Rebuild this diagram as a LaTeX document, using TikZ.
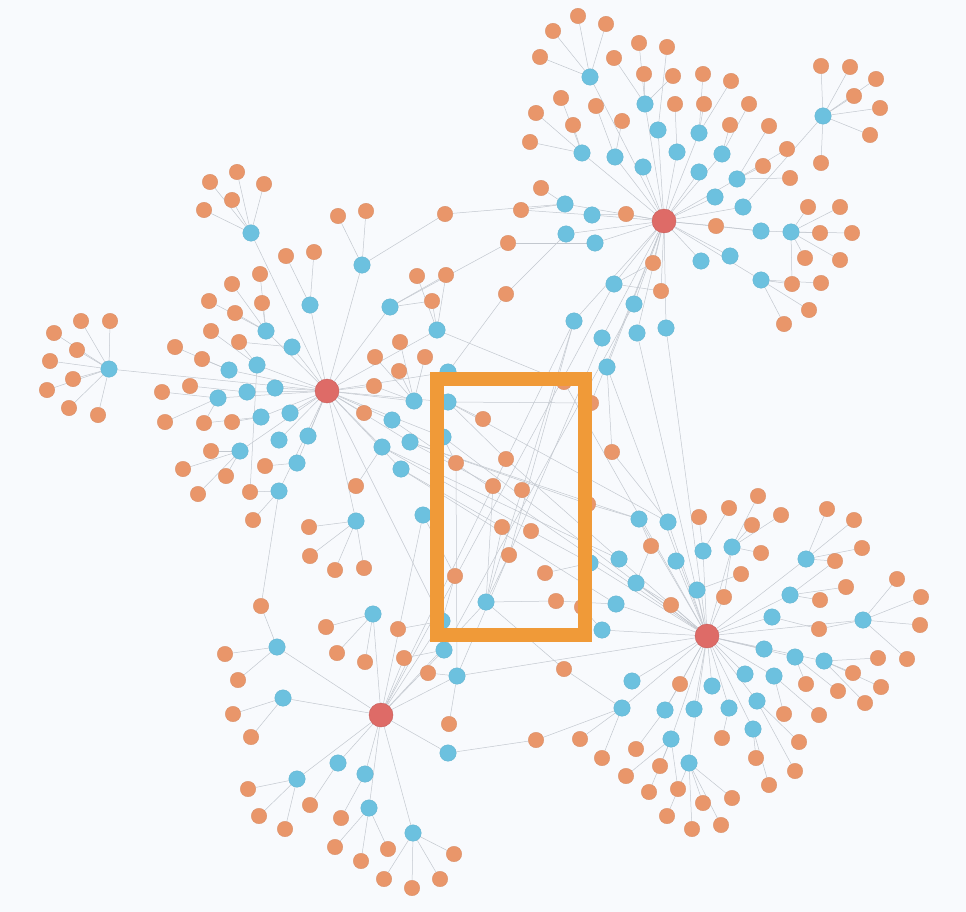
\documentclass[tikz,border=0pt]{standalone}
\usetikzlibrary{backgrounds}
\definecolor{canvas}{HTML}{F8FAFD}
\definecolor{hubred}{HTML}{DE6B67}
\definecolor{custblue}{HTML}{6CC1DF}
\definecolor{prodorange}{HTML}{E9966A}
\definecolor{linkgray}{HTML}{C3C8CF}
\definecolor{focusorange}{HTML}{F09A38}
\tikzset{
  hub/.style={circle, fill=hubred, draw=hubred!88!black, line width=0.4pt,
    minimum size=24pt, inner sep=0pt},
  cust/.style={circle, fill=custblue, draw=custblue!92!black, line width=0.3pt,
    minimum size=16.5pt, inner sep=0pt},
  prod/.style={circle, fill=prodorange, draw=prodorange!92!black, line width=0.3pt,
    minimum size=15.5pt, inner sep=0pt},
  link/.style={draw=linkgray, line width=0.5pt},
  focusbox/.style={draw=focusorange, line width=14pt},
}
\newcommand{\custlist}{
  w1/251/233/hubW, w2/362/265/hubW, w3/310/305/hubW, w4/390/307/hubW,
  w5/437/330/hubW, w6/266/331/hubW, w7/292/347/hubW, w8/257/365/hubW,
  w9/229/370/hubW, w10/109/369/hubW, w11/275/388/hubW, w12/247/392/hubW,
  w13/218/398/hubW, w14/414/401/hubW, w15/290/413/hubW, w16/261/417/hubW,
  w17/392/420/hubW, w18/308/436/hubW, w19/279/440/hubW, w20/410/442/hubW,
  w21/240/451/hubW, w22/382/447/hubW, w23/297/463/hubW, w24/401/469/hubW,
  w25/279/491/hubW, w26/448/372/hubW, w27/448/402/hubW, w28/443/437/hubW,
  w29/423/515/hubS, w30/356/521/hubW,
  s1/373/614/hubS, s2/277/647/hubS, s3/444/650/hubS, s4/457/676/hubS,
  s5/283/698/hubS, s6/448/753/hubS, s7/338/763/hubS, s8/365/774/hubS,
  s9/297/779/hubS, s10/369/808/hubS, s11/413/833/hubS, s12/442/621/hubS,
  n1/590/77/hubNE, n2/645/104/hubNE, n3/658/130/hubNE, n4/699/133/hubNE,
  n5/582/153/hubNE, n6/615/157/hubNE, n7/677/152/hubNE, n8/722/154/hubNE,
  n9/643/167/hubNE, n10/699/172/hubNE, n11/737/179/hubNE, n13/715/197/hubNE,
  n14/743/207/hubNE, n15/565/204/hubNE, n16/592/215/hubNE, n17/566/234/hubNE,
  n18/595/243/hubNE, n19/761/231/hubNE, n21/701/261/hubNE, n22/730/256/hubNE,
  n23/761/280/hubNE, n24/614/284/hubNE, n25/634/304/hubNE, n26/574/321/hubNE,
  n27/666/328/hubNE, n28/602/338/hubNE, n29/637/333/hubNE, n30/607/367/hubNE,
  n12/823/116/n14, n20/791/232/n19,
  e1/639/519/hubSE, e2/668/522/hubSE, e3/703/551/hubSE, e4/732/547/hubSE,
  e5/619/559/hubSE, e6/676/561/hubSE, e7/590/563/hubSE, e8/636/583/hubSE,
  e9/697/590/hubSE, e10/616/604/hubSE, e11/602/630/hubSE, e12/806/559/hubSE,
  e13/790/595/hubSE, e14/772/617/hubSE, e15/863/620/hubSE, e16/764/649/hubSE,
  e17/795/657/hubSE, e18/824/661/hubSE, e19/632/681/hubSE, e20/745/674/hubSE,
  e21/774/676/hubSE, e22/712/686/hubSE, e23/757/701/hubSE, e24/622/708/hubSE,
  e25/665/710/hubSE, e26/694/709/hubSE, e27/729/708/hubSE, e28/753/729/hubSE,
  e29/671/739/hubSE, e30/689/763/hubSE, e31/486/602/hubS}
\newcommand{\prodlist}{
  pn1/578/16/n1, pn2/606/24/n1, pn3/553/31/n1, pn4/540/57/n1,
  pn5/639/43/n2, pn6/667/47/n3, pn7/614/58/n2, pn8/644/74/n2,
  pn9/673/76/n2, pn10/675/104/n7, pn11/703/74/n4, pn12/731/81/n4,
  pn13/704/104/n4, pn14/730/125/n8, pn15/749/104/n8, pn16/769/126/n11,
  pn17/787/149/n11, pn18/763/166/n11, pn19/790/178/n11, pn20/821/163/n12,
  pn21/561/98/n5, pn22/596/106/n6, pn23/622/121/n6, pn24/536/113/n5,
  pn25/573/125/n5, pn26/530/142/n5, pn27/821/66/n12, pn28/850/67/n12,
  pn29/876/79/n12, pn30/854/96/n12, pn31/880/108/n12, pn32/870/135/n12,
  pn33/541/188/n15, pn34/521/210/n15, pn35/626/214/n16, pn36/508/243/n18,
  pn37/506/294/n17, pn38/653/263/hubNE, pn39/661/291/hubNE, pn40/716/226/hubNE,
  pn41/808/207/n20, pn42/840/207/n20, pn43/820/233/n20, pn44/852/233/n20,
  pn45/805/258/n20, pn46/840/260/n20, pn47/792/284/n23, pn48/821/283/n23,
  pn49/809/310/n23, pn50/784/324/n23,
  pw1/237/172/w1, pw2/210/182/w1, pw3/264/184/w1, pw4/232/200/w1,
  pw5/204/210/w1, pw6/338/216/w2, pw7/366/211/w2, pw8/445/214/w2,
  pw9/286/256/w3, pw10/314/252/w3, pw11/417/276/w5, pw12/446/275/w5,
  pw13/432/301/w5, pw14/260/274/w6, pw15/232/284/w6, pw16/209/301/w6,
  pw17/262/303/w6, pw18/235/313/w6, pw19/211/331/w8, pw20/239/342/w7,
  pw21/175/347/w9, pw22/202/359/w9, pw23/190/386/w12, pw24/162/392/w13,
  pw25/165/422/w13, pw26/204/423/w13, pw27/232/422/w16, pw28/211/451/w21,
  pw29/183/469/w21, pw30/226/476/w21, pw31/265/466/w23, pw32/198/494/w21,
  pw33/250/492/w25, pw34/253/520/w25, pw35/364/413/hubW, pw36/356/486/w22,
  pw37/400/342/w14, pw38/375/357/w14, pw39/425/357/w14, pw40/399/371/w14,
  pw41/374/386/hubW, pw42/81/321/w10, pw43/110/321/w10, pw44/54/333/w10,
  pw45/77/350/w10, pw46/50/361/w10, pw47/73/379/w10, pw48/47/390/w10,
  pw49/69/408/w10, pw50/98/415/w10, pw51/483/419/w27, pw52/564/382/w5,
  pw53/591/403/w27, pw54/612/452/n30,
  pm1/506/459/w27, pm2/456/463/w28, pm3/493/486/w20, pm4/522/490/e31,
  pm5/502/527/e31, pm6/531/531/e7, pm7/509/555/e31, pm8/455/576/s12,
  pm9/545/573/e7, pm10/556/601/e10, pm11/582/607/e11, pm12/588/504/e1,
  pm13/564/669/e24,
  pe1/651/546/e8, pe2/699/517/e3, pe3/671/605/hubSE, pe4/680/684/hubSE,
  pe5/729/508/e3, pe6/758/496/e4, pe7/752/525/e4, pe8/781/515/e4,
  pe9/761/553/e4, pe10/741/574/e9, pe11/724/597/hubSE, pe12/827/509/e12,
  pe13/854/520/e12, pe14/862/548/e12, pe15/835/561/e13, pe16/846/587/e13,
  pe17/820/600/e13, pe18/819/629/e14, pe19/897/579/e15, pe20/921/597/e15,
  pe21/920/625/e15, pe22/907/659/e15, pe23/878/658/e18, pe24/853/673/e18,
  pe25/881/687/e18, pe26/865/703/e18, pe27/806/684/e17, pe28/838/691/e17,
  pe29/819/715/e21, pe30/784/714/e21, pe31/799/742/e23, pe32/795/771/e23,
  pe33/756/758/e28, pe34/769/785/e28, pe35/722/738/e27, pe36/636/749/e25,
  pe37/626/776/e29, pe38/660/766/e29, pe39/649/792/e29, pe40/678/789/e29,
  pe41/667/816/e30, pe42/692/829/e30, pe43/703/803/e30, pe44/732/798/e30,
  pe45/721/825/e30, pe46/602/758/e24, pe47/580/739/e24, pe48/536/740/e24,
  ps1/309/527/w30, ps2/310/556/w30, ps3/335/570/w30, ps4/364/568/w30,
  ps5/261/606/s2, ps6/326/627/s1, ps7/337/653/s1, ps8/365/662/s1,
  ps9/398/629/s12, ps10/404/658/s3, ps11/428/673/s4, ps12/449/724/s4,
  ps13/225/654/s2, ps14/238/680/s2, ps15/233/714/s5, ps16/251/737/s5,
  ps17/248/789/s9, ps18/259/816/s9, ps19/285/829/s9, ps20/310/805/s7,
  ps21/341/818/s8, ps22/335/847/s10, ps23/361/861/s10, ps24/388/849/s10,
  ps25/384/879/s11, ps26/412/888/s11, ps27/440/879/s11, ps28/454/854/s11}

\begin{document}
\begin{tikzpicture}[x=1pt, y=-1pt]
  \useasboundingbox (0,0) rectangle (966,912);
  \node[hub] (hubW) at (327,391) {};
  \node[hub] (hubNE) at (664,221) {};
  \node[hub] (hubSE) at (707,636) {};
  \node[hub] (hubS) at (381,715) {};
  \foreach \n/\x/\y/\h in \custlist \node[cust] (\n) at (\x,\y) {};
  \foreach \n/\x/\y/\p in \prodlist \node[prod] (\n) at (\x,\y) {};
  \begin{pgfonlayer}{background}
    \fill[canvas] (0,0) rectangle (966,912);
    \foreach \n/\x/\y/\h in \custlist \draw[link] (\n) -- (\h);
    \foreach \n/\x/\y/\p in \prodlist \draw[link] (\n) -- (\p);
    \foreach \a/\b in {pn34/n16, pn35/hubNE, pn36/w4, pn37/w26, pn38/n24,
        pn39/n24, pn40/n19, pn47/n20, pw8/n15, pw12/w4, pw13/w4, pw20/w8,
        pw33/w8, pw26/w16, pw41/w14, pw53/hubNE, pw54/e2, pw52/hubSE,
        pm1/e5, pm2/s4, pm3/e31, pm4/n26, pm5/w24, pm6/w22, pm7/n26, pm8/w29,
        pm10/e31, pm12/w20, pm13/e31, pe1/e1, pe3/e8, pe4/e25, pe11/e4,
        pe15/e12, pe18/e15, pe48/s6, ps5/w25, ps10/hubS,
        w17/hubSE, w20/e1, w22/e5, w24/e10, w27/e2, w28/hubSE,
        n24/hubS, n25/s3, n26/hubS, n28/s4, n29/hubSE, n30/hubSE, n27/hubSE,
        s12/hubW, s4/hubSE}
      \draw[link] (\a) -- (\b);
  \end{pgfonlayer}
  \draw[focusbox] (437,379) rectangle (585,635);
\end{tikzpicture}
\end{document}
